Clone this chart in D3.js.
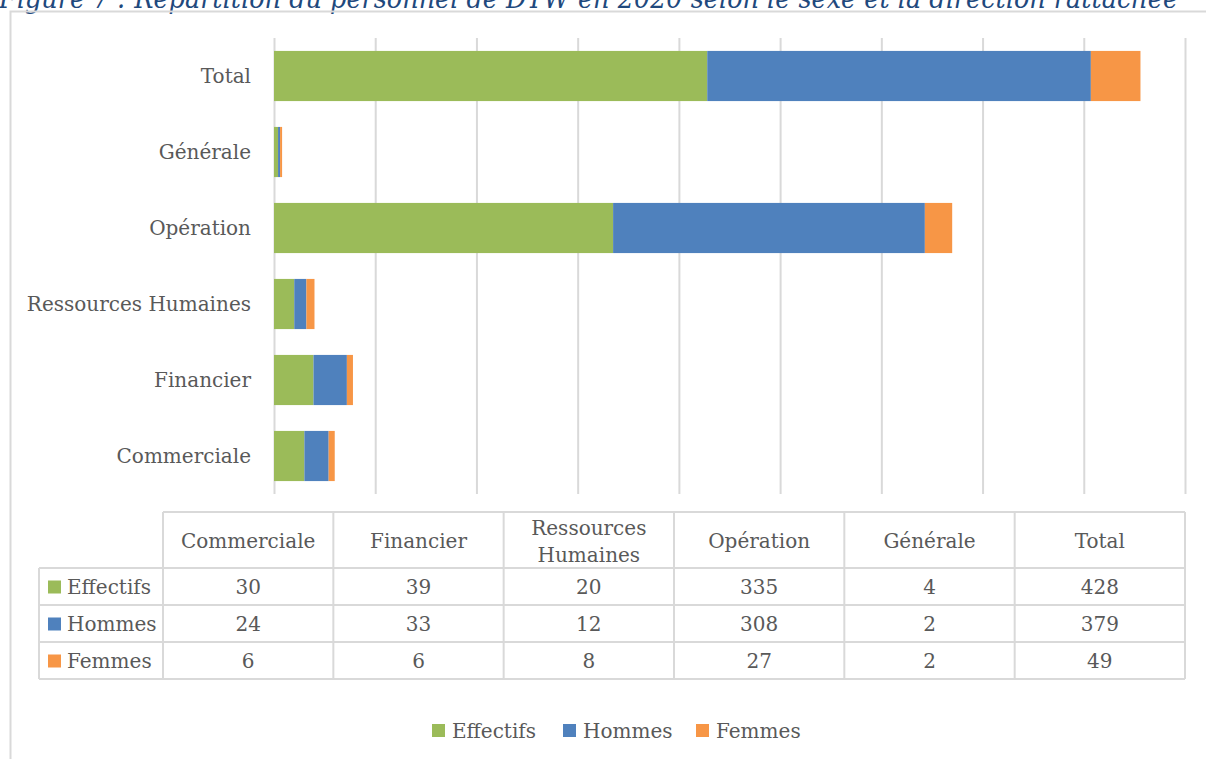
<!DOCTYPE html>
<html>
<head>
<meta charset="utf-8">
<script src="https://cdn.jsdelivr.net/npm/d3@7"></script>
<style>
  body { margin: 0; background: #fff; }
  svg text { font-family: "DejaVu Serif", serif; fill: #595959; }
</style>
</head>
<body>
<svg id="chart" width="1206" height="759"></svg>
<script>
// data
const categories = ['Commerciale', 'Financier', 'Ressources Humaines', 'Opération', 'Générale', 'Total'];
const effectifs = [30, 39, 20, 335, 4, 428];
const hommes = [24, 33, 12, 308, 2, 379];
const femmes = [6, 6, 8, 27, 2, 49];
const seriesNames = ['Effectifs', 'Hommes', 'Femmes'];
const xTicks = [0, 100, 200, 300, 400, 500, 600, 700, 800, 900];
const titleText = 'Figure 7 : Répartition du personnel de DTW en 2020 selon le sexe et la direction rattachée';

const colors = ['#9BBB59', '#4F81BD', '#F79646'];
const gridColor = '#d9d9d9';
const fontSize = '20px';

const svg = d3.select('#chart');

// title, cut off by the top of the frame like in the source
svg.append('text')
    .attr('x', -1)
    .attr('y', 8)
    .attr('textLength', 1179)
    .attr('lengthAdjust', 'spacingAndGlyphs')
    .style('font-style', 'italic')
    .style('font-size', '27px')
    .style('fill', '#1F497D')
    .text(titleText);

// chart border
svg.append('path')
    .attr('d', 'M10.5,759 V11.5 H1206')
    .attr('fill', 'none')
    .attr('stroke', gridColor)
    .attr('stroke-width', 2);

const x = d3.scaleLinear().domain([0, 900]).range([274, 1185]);
const y = d3.scaleBand()
    .domain(categories.slice().reverse())
    .range([38, 494])
    .paddingInner(0.34)
    .paddingOuter(0.17);

// gridlines
svg.append('g')
    .selectAll('line')
    .data(xTicks)
    .join('line')
    .attr('x1', d => x(d) + 0.5)
    .attr('x2', d => x(d) + 0.5)
    .attr('y1', 38)
    .attr('y2', 494)
    .attr('stroke', gridColor)
    .attr('stroke-width', 2);

// stacked bars
const rows = categories.map((c, i) => ({ cat: c, Effectifs: effectifs[i], Hommes: hommes[i], Femmes: femmes[i] }));
const stack = d3.stack().keys(seriesNames)(rows);

svg.append('g')
    .selectAll('g')
    .data(stack)
    .join('g')
    .attr('fill', (d, i) => colors[i])
    .selectAll('rect')
    .data(d => d)
    .join('rect')
    .attr('x', d => x(d[0]))
    .attr('width', d => x(d[1]) - x(d[0]))
    .attr('y', d => y(d.data.cat))
    .attr('height', y.bandwidth());

// category labels
svg.append('g')
    .selectAll('text')
    .data(categories)
    .join('text')
    .attr('x', 251)
    .attr('y', d => y(d) + y.bandwidth() / 2)
    .attr('dy', '0.35em')
    .attr('text-anchor', 'end')
    .style('font-size', fontSize)
    .text(d => d);

// data table
const col = d3.scaleBand().domain(categories).range([163, 1185]);
const tableTop = 512, headBottom = 568, rowH = 37;
const table = svg.append('g').attr('stroke', gridColor).attr('stroke-width', 2);

table.append('line').attr('x1', 163).attr('x2', 1185).attr('y1', tableTop).attr('y2', tableTop);
[0, 1, 2, 3].forEach(k => {
    table.append('line').attr('x1', 39).attr('x2', 1185)
        .attr('y1', headBottom + k * rowH).attr('y2', headBottom + k * rowH);
});
table.append('line').attr('x1', 39).attr('x2', 39).attr('y1', headBottom).attr('y2', headBottom + 3 * rowH);
categories.concat(['end']).forEach((c, i) => {
    const xx = i < categories.length ? col(c) : 1185;
    table.append('line').attr('x1', xx).attr('x2', xx).attr('y1', tableTop).attr('y2', headBottom + 3 * rowH);
});

// header texts
const header = svg.append('g').selectAll('text')
    .data(categories)
    .join('text')
    .attr('text-anchor', 'middle')
    .style('font-size', fontSize);
header.each(function (d) {
    const parts = d === 'Ressources Humaines' ? ['Ressources', 'Humaines'] : [d];
    const t = d3.select(this);
    parts.forEach((p, j) => {
        t.append('tspan')
            .attr('x', col(d) + col.bandwidth() / 2)
            .attr('y', parts.length === 1 ? 548 : 535 + j * 27)
            .text(p);
    });
});

// value rows
const seriesValues = [effectifs, hommes, femmes];
seriesNames.forEach((name, k) => {
    const cy = headBottom + k * rowH + rowH / 2;
    svg.append('rect')
        .attr('x', 48).attr('y', cy - 6)
        .attr('width', 13).attr('height', 13)
        .attr('fill', colors[k]);
    svg.append('text')
        .attr('x', 67).attr('y', cy)
        .attr('dy', '0.35em')
        .style('font-size', fontSize)
        .text(name);
    svg.append('g').selectAll('text')
        .data(seriesValues[k])
        .join('text')
        .attr('x', (d, i) => col(categories[i]) + col.bandwidth() / 2)
        .attr('y', cy)
        .attr('dy', '0.35em')
        .attr('text-anchor', 'middle')
        .style('font-size', fontSize)
        .text(d => d);
});

// legend
const legendX = [432, 563, 696];
const legend = svg.append('g')
    .selectAll('g')
    .data(seriesNames)
    .join('g')
    .attr('transform', (d, i) => `translate(${legendX[i]},724)`);
legend.append('rect')
    .attr('width', 13).attr('height', 13)
    .attr('fill', (d, i) => colors[i]);
legend.append('text')
    .attr('x', 20).attr('y', 7)
    .attr('dy', '0.35em')
    .style('font-size', fontSize)
    .text(d => d);
</script>
</body>
</html>
